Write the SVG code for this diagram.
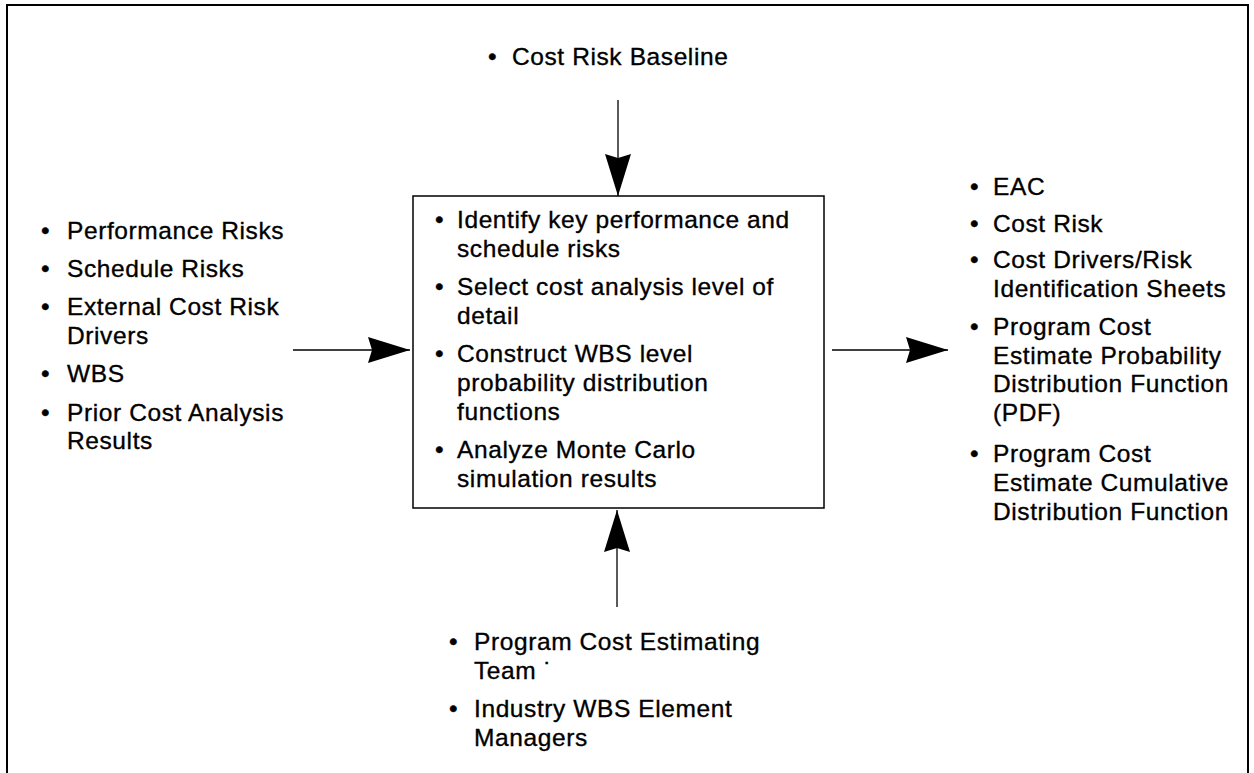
<svg xmlns="http://www.w3.org/2000/svg" width="1254" height="773" viewBox="0 0 1254 773">
<style>
text{font-family:"Liberation Sans",Arial,sans-serif;font-size:24.5px;letter-spacing:0.6px;fill:#000;stroke:#000;stroke-width:0.35px}
.ln{stroke:#000;stroke-width:1.3;fill:none}
</style>
<defs>
<marker id="ah" viewBox="0 0 42 26" refX="42" refY="13" markerWidth="42" markerHeight="26" markerUnits="userSpaceOnUse" orient="auto">
<path d="M0,0 L42,13 L0,26 L4,13 Z" fill="#000"/>
</marker>
</defs>
<rect x="0" y="0" width="1254" height="773" fill="#fff"/>
<rect x="7" y="5" width="1241" height="770" fill="none" stroke="#000" stroke-width="2"/>
<g id="connectors">
<line class="ln" x1="618" y1="100" x2="618" y2="196" marker-end="url(#ah)"/>
<line class="ln" x1="617" y1="607" x2="617" y2="510" marker-end="url(#ah)"/>
<line class="ln" x1="293" y1="350" x2="410" y2="350" marker-end="url(#ah)"/>
<line class="ln" x1="832" y1="350" x2="948" y2="350" marker-end="url(#ah)"/>
</g>
<g id="process">
<rect x="413" y="196" width="411" height="312" fill="none" stroke="#000" stroke-width="1.5"/>
<text x="435" y="228">•</text><text x="457" y="228">Identify key performance and</text>
<text x="457" y="257">schedule risks</text>
<text x="435" y="295">•</text><text x="457" y="295">Select cost analysis level of</text>
<text x="457" y="324">detail</text>
<text x="435" y="362">•</text><text x="457" y="362">Construct WBS level</text>
<text x="457" y="391">probability distribution</text>
<text x="457" y="420">functions</text>
<text x="435" y="458">•</text><text x="457" y="458">Analyze Monte Carlo</text>
<text x="457" y="487">simulation results</text>
</g>
<g id="controls">
<text x="488" y="65">•</text><text x="512" y="65">Cost Risk Baseline</text>
</g>
<g id="inputs">
<text x="41" y="239">•</text><text x="67" y="239">Performance Risks</text>
<text x="41" y="277">•</text><text x="67" y="277">Schedule Risks</text>
<text x="41" y="315">•</text><text x="67" y="315">External Cost Risk</text>
<text x="67" y="344">Drivers</text>
<text x="41" y="382">•</text><text x="67" y="382">WBS</text>
<text x="41" y="421">•</text><text x="67" y="421">Prior Cost Analysis</text>
<text x="67" y="449">Results</text>
</g>
<g id="outputs">
<text x="970" y="195">•</text><text x="993" y="195">EAC</text>
<text x="970" y="232">•</text><text x="993" y="232">Cost Risk</text>
<text x="970" y="268">•</text><text x="993" y="268">Cost Drivers/Risk</text>
<text x="993" y="297">Identification Sheets</text>
<text x="970" y="335">•</text><text x="993" y="335">Program Cost</text>
<text x="993" y="364">Estimate Probability</text>
<text x="993" y="392">Distribution Function</text>
<text x="993" y="421">(PDF)</text>
<text x="970" y="462">•</text><text x="993" y="462">Program Cost</text>
<text x="993" y="491">Estimate Cumulative</text>
<text x="993" y="520">Distribution Function</text>
</g>
<g id="mechanisms">
<text x="449" y="650">•</text><text x="474" y="650">Program Cost Estimating</text>
<text x="474" y="679">Team ˙</text>
<text x="449" y="717">•</text><text x="474" y="717">Industry WBS Element</text>
<text x="474" y="746">Managers</text>
</g>
</svg>
